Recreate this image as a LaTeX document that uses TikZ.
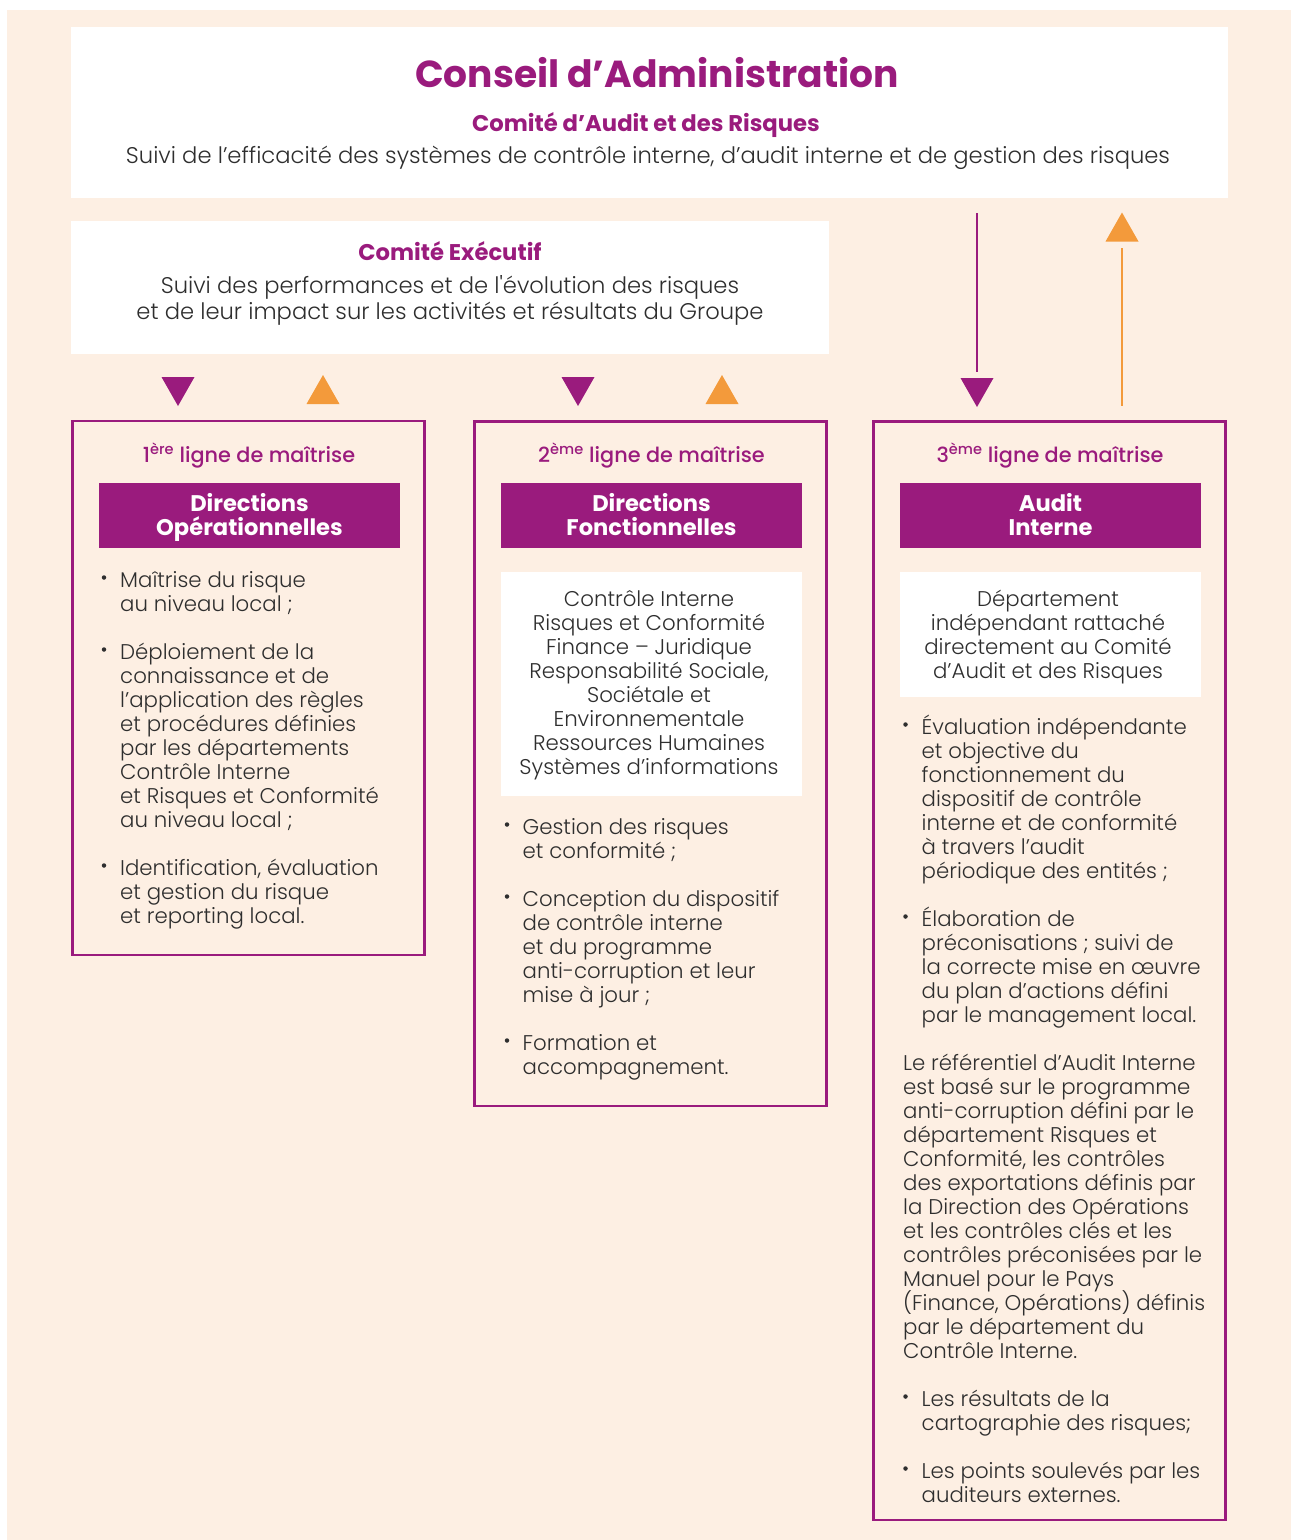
\documentclass[tikz,border=0pt]{standalone}
\usepackage{fontspec}
\setmainfont{Poppins Light}[BoldFont=Poppins Bold]
\newfontfamily\popmed{Poppins Medium}
\font\plainlight="Poppins Light" at 22.65pt
\definecolor{bg}{HTML}{FDEFE3}
\definecolor{purp}{HTML}{9A1B7D}
\definecolor{orng}{HTML}{F39A3B}
\definecolor{txt}{HTML}{2E2E2E}
\newcommand\plines[5]{%
  \foreach \t [count=\i from 0] in {#5} {\node[body, anchor=#2] (#1-\i) at (#3, {#4+24*\i}) {\t};}}
\begin{document}
\begin{tikzpicture}[x=1pt,y=-1pt,
  body/.style={font=\fontsize{21.3}{24}\selectfont, text=txt, inner sep=0},
  wbox/.style={fill=white, draw=none, inner sep=0},
  colbox/.style={draw=purp, line width=2.5pt, inner sep=0},
  banner/.style={fill=purp, inner sep=0, minimum width=301pt, minimum height=65pt},
  bantext/.style={font=\bfseries\fontsize{22.6}{24}\selectfont, text=white, inner sep=0, anchor=base},
  colhead/.style={font=\popmed\fontsize{20.8}{24}\selectfont, text=purp, inner sep=0, anchor=base},
  subhead/.style={font=\bfseries\fontsize{22.7}{26}\selectfont, text=purp, inner sep=0, anchor=base},
  desc/.style={font=\fontsize{22.65}{26}\selectfont, text=txt, inner sep=0, anchor=base},
  bul/.style={circle, fill=txt, minimum size=4.5pt, inner sep=0},
  downtri/.style={fill=purp},
  uptri/.style={fill=orng},
  purpline/.style={draw=purp, line width=2.5pt},
  orngline/.style={draw=orng, line width=2.5pt}]
\useasboundingbox (0,0) rectangle (1291,1540);
\fill[bg] (7,10) rectangle (1291,1540);

% Conseil d'Administration
\node[wbox, minimum width=1157pt, minimum height=171pt] (ca) at (649.5,112.5) {};
\node[font=\bfseries\fontsize{37.6}{42}\selectfont, text=purp, inner sep=0, anchor=base] (catitle) at (657,87) {Conseil d’Administration};
\node[subhead] (carisk) at (646,131.5) {Comité d’Audit et des Risques};
\node[desc] (cadesc) at (648,163) {Suivi de l’efficacité des systèmes de contrôle interne, d’audit interne et de gestion des risques};

% Comite Executif
\node[wbox, minimum width=758pt, minimum height=133pt] (ce) at (450,287.5) {};
\node[subhead] (cetitle) at (450,260.5) {Comité Exécutif};
\node[desc] (cedesc1) at (450,293) {Suivi des performances et de l{\plainlight '}évolution des risques};
\node[desc] (cedesc2) at (450,319.5) {et de leur impact sur les activités et résultats du Groupe};

% triangles (columns 1 and 2)
\fill[downtri] (161.5,377) -- (194.5,377) -- (178,406) -- cycle;
\fill[uptri] (306.5,404) -- (339.5,404) -- (323,375) -- cycle;
\fill[downtri] (561.5,377) -- (594.5,377) -- (578,406) -- cycle;
\fill[uptri] (705.5,404) -- (738.5,404) -- (722,375) -- cycle;

% column 3 arrows
\coordinate (p3s) at (977,213);
\coordinate (p3e) at (977,372);
\draw[purpline] (p3s) -- (p3e);
\fill[downtri] (960.5,378) -- (993.5,378) -- (977,407) -- cycle;
\coordinate (o3s) at (1122,405.5);
\coordinate (o3e) at (1122,248);
\draw[orngline] (o3s) -- (o3e);
\fill[uptri] (1105.5,241.5) -- (1138.5,241.5) -- (1122,212.5) -- cycle;

% column boxes
\node[colbox, minimum width=352.4pt, minimum height=534pt] (col1) at (248.5,688.2) {};
\node[colbox, minimum width=352.4pt, minimum height=684.7pt] (col2) at (650.5,763.6) {};
\node[colbox, minimum width=352.4pt, minimum height=1098.5pt] (col3) at (1049.5,970.5) {};

% headers
\node[colhead] (h1) at (249,462) {1\textsuperscript{ère} ligne de maîtrise};
\node[colhead] (h2) at (651.5,462) {2\textsuperscript{ème} ligne de maîtrise};
\node[colhead] (h3) at (1050,462) {3\textsuperscript{ème} ligne de maîtrise};

% banners
\node[banner] (b1) at (249.5,515.5) {};
\node[bantext] (b1a) at (249.5,511) {Directions};
\node[bantext] (b1b) at (249.5,535) {Opérationnelles};
\node[banner] (b2) at (651.5,515.5) {};
\node[bantext] (b2a) at (651.5,511) {Directions};
\node[bantext] (b2b) at (651.5,535) {Fonctionnelles};
\node[banner] (b3) at (1050.5,515.5) {};
\node[bantext] (b3a) at (1050.5,511) {Audit};
\node[bantext] (b3b) at (1050.5,535) {Interne};

% column 1 bullets
\node[bul] (d1a) at (104,577.5) {};
\plines{t1a}{base west}{120}{587}{Maîtrise du risque, au niveau local ;}
\node[bul] (d1b) at (104,649.5) {};
\plines{t1b}{base west}{120}{659}{Déploiement de la, connaissance et de, l’application des règles, et procédures définies, par les départements, Contrôle Interne, et Risques et Conformité, au niveau local ;}
\node[bul] (d1c) at (104,865.5) {};
\plines{t1c}{base west}{120}{875}{{Identification, évaluation}, et gestion du risque, et reporting local.}

% column 2
\node[wbox, minimum width=301pt, minimum height=224pt] (w2) at (651.5,684) {};
\plines{t2w}{base}{649}{606}{Contrôle Interne, Risques et Conformité, Finance – Juridique, {Responsabilité Sociale,}, Sociétale et, Environnementale, Ressources Humaines, Systèmes d’informations}
\node[bul] (d2a) at (507,824.5) {};
\plines{t2a}{base west}{522.5}{834}{Gestion des risques, et conformité ;}
\node[bul] (d2b) at (507,896.5) {};
\plines{t2b}{base west}{522.5}{906}{Conception du dispositif, de contrôle interne, et du programme, anti-corruption et leur, mise à jour ;}
\node[bul] (d2c) at (507,1040.5) {};
\plines{t2c}{base west}{522.5}{1050}{Formation et, accompagnement.}

% column 3
\node[wbox, minimum width=301pt, minimum height=125pt] (w3) at (1050.5,634.5) {};
\plines{t3w}{base}{1048}{606}{Département, indépendant rattaché, directement au Comité, d’Audit et des Risques}
\node[bul] (d3a) at (905.5,724.5) {};
\plines{t3a}{base west}{921.5}{734}{Évaluation indépendante, et objective du, fonctionnement du, dispositif de contrôle, interne et de conformité, à travers l’audit, périodique des entités ;}
\node[bul] (d3b) at (905.5,916.5) {};
\plines{t3b}{base west}{921.5}{926}{Élaboration de, préconisations ; suivi de, la correcte mise en œuvre, du plan d’actions défini, par le management local.}
\plines{t3p}{base west}{903}{1070}{Le référentiel d’Audit Interne, est basé sur le programme, anti-corruption défini par le, département Risques et, {Conformité, les contrôles}, des exportations définis par, la Direction des Opérations, et les contrôles clés et les, contrôles préconisées par le, Manuel pour le Pays, {(Finance, Opérations) définis}, par le département du, Contrôle Interne.}
\node[bul] (d3c) at (905.5,1396.5) {};
\plines{t3c}{base west}{921.5}{1406}{Les résultats de la, cartographie des risques;}
\node[bul] (d3d) at (905.5,1468.5) {};
\plines{t3d}{base west}{921.5}{1478}{Les points soulevés par les, auditeurs externes.}
\end{tikzpicture}
\end{document}
